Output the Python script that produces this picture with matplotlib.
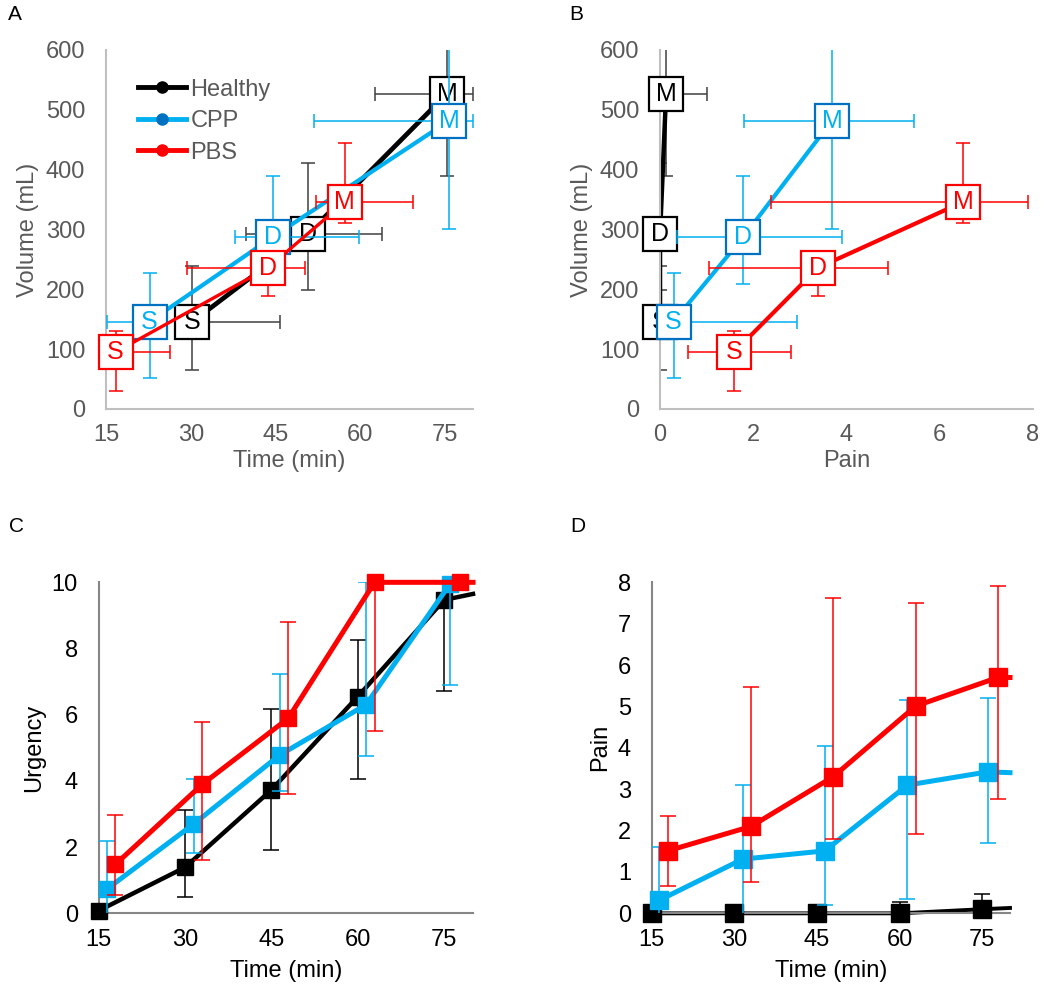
import matplotlib
matplotlib.use("Agg")
import matplotlib.pyplot as plt
from matplotlib.lines import Line2D

plt.rcParams['font.family'] = ['Liberation Sans', 'DejaVu Sans']

# ---- data ----
stages = ["S", "D", "M"]
groups = ["Healthy", "CPP", "PBS"]

# volume at each sensation stage (shared by A and B)
vol_healthy = [145, 292, 527]
vol_healthy_lo = [80, 93, 137]
vol_healthy_hi = [94, 119, 120]
vol_cpp = [146, 288, 482]
vol_cpp_lo = [95, 80, 181]
vol_cpp_hi = [82, 102, 181]
vol_pbs = [95, 236, 346]
vol_pbs_lo = [65, 47, 35]
vol_pbs_hi = [35, 25, 99]

# panel A: time at each stage
time_healthy = [30.2, 50.7, 75.4]
time_healthy_lo = [2.0, 10.9, 12.8]
time_healthy_hi = [15.6, 13.2, 4.6]
time_cpp = [22.7, 44.6, 75.8]
time_cpp_lo = [7.6, 6.8, 24.0]
time_cpp_hi = [2.0, 15.2, 4.2]
time_pbs = [16.7, 43.7, 57.3]
time_pbs_lo = [1.5, 14.4, 5.2]
time_pbs_hi = [9.6, 6.6, 12.1]

# panel B: pain at each stage
pain_healthy = [0.0, 0.0, 0.13]
pain_healthy_lo = [0.0, 0.0, 0.1]
pain_healthy_hi = [0.2, 0.3, 0.87]
pain_cpp = [0.29, 1.79, 3.69]
pain_cpp_lo = [0.3, 1.43, 1.89]
pain_cpp_hi = [2.65, 2.12, 1.76]
pain_pbs = [1.59, 3.39, 6.5]
pain_pbs_lo = [1.0, 2.34, 4.11]
pain_pbs_hi = [1.21, 1.51, 1.4]

# panel C/D: values over time (groups plotted slightly shifted in time)
t_healthy = [15, 30, 45, 60, 75]
t_cpp = [16.4, 31.5, 46.4, 61.4, 76.0]
t_pbs = [17.9, 33.0, 47.9, 62.9, 77.8]
t_tail = 80

urg_healthy = [0.08, 1.39, 3.73, 6.55, 9.47]
urg_healthy_lo = [0.08, 0.89, 1.82, 2.48, 2.75]
urg_healthy_hi = [0.1, 1.73, 2.44, 1.71, 1.0]
urg_healthy_tail = 9.65
urg_cpp = [0.73, 2.70, 4.78, 6.30, 9.95]
urg_cpp_lo = [1.47, 0.89, 1.08, 1.55, 3.05]
urg_cpp_hi = [1.47, 1.37, 2.44, 3.70, 0.0]
urg_pbs = [1.48, 3.90, 5.89, 10.0, 10.0]
urg_pbs_lo = [0.93, 2.29, 2.29, 4.48, 0.0]
urg_pbs_hi = [1.49, 1.87, 2.92, 0.0, 0.0]
urg_pbs_tail = 10.0

painT_healthy = [0.0, 0.0, 0.0, 0.0, 0.1]
painT_healthy_lo = [0.0, 0.0, 0.0, 0.0, 0.0]
painT_healthy_hi = [0.0, 0.0, 0.0, 0.27, 0.37]
painT_healthy_tail = 0.13
painT_cpp = [0.32, 1.31, 1.51, 3.10, 3.42]
painT_cpp_lo = [1.29, 1.79, 1.31, 2.75, 1.71]
painT_cpp_hi = [1.29, 1.79, 2.54, 2.06, 1.78]
painT_cpp_tail = 3.40
painT_pbs = [1.51, 2.10, 3.30, 5.01, 5.70]
painT_pbs_lo = [0.85, 1.35, 1.50, 3.10, 2.94]
painT_pbs_hi = [0.85, 3.36, 4.31, 2.50, 2.21]
painT_pbs_tail = 5.70

# ---- styles ----
LINE = {"Healthy": "black", "CPP": "#00b0f0", "PBS": "#ff0000"}
BOX_EDGE = {"Healthy": "black", "CPP": "#0070c0", "PBS": "#ff0000"}
ERR = {"Healthy": "#404040", "CPP": "#00b0f0", "PBS": "#ff0000"}
LEG_DOT = {"Healthy": "black", "CPP": "#0070c0", "PBS": "#ff0000"}
GREY_TXT = "#595959"
FS = 17

fig = plt.figure(figsize=(10.5, 9.89), dpi=100)
axA = fig.add_axes([0.101, 0.5865, 0.3495, 0.363])
axB = fig.add_axes([0.6286, 0.5865, 0.3552, 0.363])
axC = fig.add_axes([0.094, 0.0765, 0.3565, 0.3347])
axD = fig.add_axes([0.6207, 0.0765, 0.3412, 0.3347])


def style_axes(ax, spine_col, txt_col):
    for s in ["top", "right"]:
        ax.spines[s].set_visible(False)
    for s in ["left", "bottom"]:
        ax.spines[s].set_color(spine_col)
        ax.spines[s].set_linewidth(1.5)
    ax.tick_params(length=0, labelsize=FS, colors=txt_col)
    ax.tick_params(axis="y", pad=15)
    ax.tick_params(axis="x", pad=11)


def stage_series(ax, g, base, x, xlo, xhi, y, ylo, yhi, lw):
    ax.errorbar(x, y, xerr=[xlo, xhi], yerr=[ylo, yhi], fmt="none",
                ecolor=ERR[g], elinewidth=1.1, capsize=5, capthick=1.1,
                zorder=base + 1)
    ax.plot(x, y, color=LINE[g], lw=lw, zorder=base + 2, solid_capstyle="butt")
    ax.plot(x, y, ls="none", marker="s", ms=25, mfc="white",
            mec=BOX_EDGE[g], mew=1.6, zorder=base + 3, clip_on=False)
    txt_col = "black" if g == "Healthy" else LINE[g]
    for xi, yi, lab in zip(x, y, stages):
        ax.text(xi, yi, lab, ha="center", va="center", fontsize=18,
                color=txt_col, zorder=base + 4)


# Panel A
stage_series(axA, "Healthy", 0, time_healthy, time_healthy_lo, time_healthy_hi,
             vol_healthy, vol_healthy_lo, vol_healthy_hi, 3.4)
stage_series(axA, "CPP", 10, time_cpp, time_cpp_lo, time_cpp_hi,
             vol_cpp, vol_cpp_lo, vol_cpp_hi, 3.0)
stage_series(axA, "PBS", 20, time_pbs, time_pbs_lo, time_pbs_hi,
             vol_pbs, vol_pbs_lo, vol_pbs_hi, 2.4)
axA.set_xlim(15, 80)
axA.set_ylim(0, 600)
axA.set_xticks([15, 30, 45, 60, 75])
axA.set_yticks(range(0, 601, 100))
style_axes(axA, "#bfbfbf", GREY_TXT)
axA.set_xlabel("Time (min)", fontsize=FS, color=GREY_TXT, labelpad=3)
axA.set_ylabel("Volume (mL)", fontsize=FS, color=GREY_TXT, labelpad=5)
handles = [Line2D([], [], color=LINE[g], lw=3.5, marker="o", ms=8,
                  mfc=LEG_DOT[g], mec=LEG_DOT[g]) for g in groups]
leg = axA.legend(handles, groups, loc="upper left", bbox_to_anchor=(0.088, 0.92),
                 frameon=False, fontsize=FS, handlelength=2.0, handletextpad=0.2,
                 borderpad=0, borderaxespad=0, labelspacing=0.4)
for t in leg.get_texts():
    t.set_color(GREY_TXT)

# Panel B
stage_series(axB, "Healthy", 0, pain_healthy, pain_healthy_lo, pain_healthy_hi,
             vol_healthy, vol_healthy_lo, vol_healthy_hi, 3.2)
stage_series(axB, "CPP", 10, pain_cpp, pain_cpp_lo, pain_cpp_hi,
             vol_cpp, vol_cpp_lo, vol_cpp_hi, 3.0)
stage_series(axB, "PBS", 20, pain_pbs, pain_pbs_lo, pain_pbs_hi,
             vol_pbs, vol_pbs_lo, vol_pbs_hi, 3.0)
axB.set_xlim(0, 8)
axB.set_ylim(0, 600)
axB.set_xticks([0, 2, 4, 6, 8])
axB.set_yticks(range(0, 601, 100))
style_axes(axB, "#bfbfbf", GREY_TXT)
axB.set_xlabel("Pain", fontsize=FS, color=GREY_TXT, labelpad=3)
axB.set_ylabel("Volume (mL)", fontsize=FS, color=GREY_TXT, labelpad=5)


def time_series(ax, g, base, x, y, lo, hi, tail, lw, ms):
    ax.errorbar(x, y, yerr=[lo, hi], fmt="none", ecolor=LINE[g],
                elinewidth=1.1, capsize=6, capthick=1.1, zorder=base + 1)
    xs = list(x) + ([t_tail] if tail is not None else [])
    ys = list(y) + ([tail] if tail is not None else [])
    ax.plot(xs, ys, color=LINE[g], lw=lw, zorder=base + 2, clip_on=False)
    ax.plot(x, y, ls="none", marker="s", ms=ms, mfc=LINE[g], mec=LINE[g],
            zorder=base + 3, clip_on=False)


# Panel C
time_series(axC, "Healthy", 0, t_healthy, urg_healthy, urg_healthy_lo,
            urg_healthy_hi, urg_healthy_tail, 3.2, 12)
time_series(axC, "CPP", 10, t_cpp, urg_cpp, urg_cpp_lo, urg_cpp_hi, None, 3.6, 12)
time_series(axC, "PBS", 20, t_pbs, urg_pbs, urg_pbs_lo, urg_pbs_hi,
            urg_pbs_tail, 3.6, 12)
axC.set_xlim(15, 80)
axC.set_ylim(0, 10)
axC.set_xticks([15, 30, 45, 60, 75])
axC.set_yticks(range(0, 11, 2))
style_axes(axC, "#868686", "black")
axC.set_xlabel("Time (min)", fontsize=FS, labelpad=7)
axC.set_ylabel("Urgency", fontsize=FS, labelpad=5)

# Panel D
time_series(axD, "Healthy", 0, t_healthy, painT_healthy, painT_healthy_lo,
            painT_healthy_hi, painT_healthy_tail, 2.8, 13)
time_series(axD, "CPP", 10, t_cpp, painT_cpp, painT_cpp_lo, painT_cpp_hi,
            painT_cpp_tail, 3.6, 13)
time_series(axD, "PBS", 20, t_pbs, painT_pbs, painT_pbs_lo, painT_pbs_hi,
            painT_pbs_tail, 3.6, 13)
axD.set_xlim(15, 80)
axD.set_ylim(0, 8)
axD.set_xticks([15, 30, 45, 60, 75])
axD.set_yticks(range(0, 9))
style_axes(axD, "#868686", "black")
axD.set_xlabel("Time (min)", fontsize=FS, labelpad=7)
axD.set_ylabel("Pain", fontsize=FS, labelpad=5)

for lab, (px, py) in zip("ABCD", [(8, 15), (569, 15), (9, 526), (570, 526)]):
    fig.text(px / 1050, 1 - py / 989, lab, fontsize=15, ha="left", va="center")

fig.savefig("out.png", dpi=100)
